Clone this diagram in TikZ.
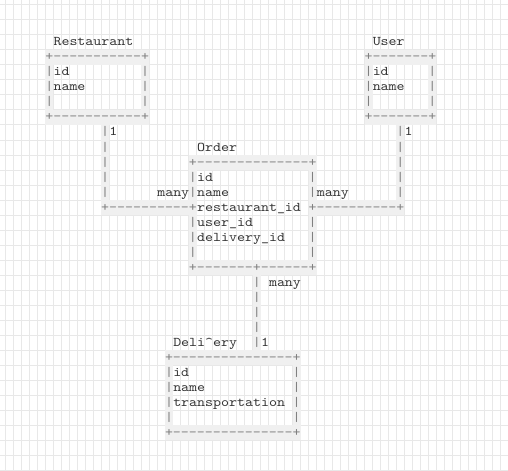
\documentclass[tikz,border=0pt]{standalone}
\usepackage{graphicx}

\newcommand\asciifont{\fontsize{10pt}{12pt}\ttfamily}
\newcommand\asc[1]{\scalebox{1.14}[1]{#1}}
\tikzset{chr/.style={inner sep=0pt, anchor=base, yshift=-2.625pt, font=\asciifont, text=black!50},
  word/.style={inner sep=0pt, anchor=base west, yshift=-2.625pt, font=\asciifont, text=black!80},
  band/.style={fill=black!6},
  gridline/.style={draw=black!9, line width=0.75pt}}
% one cell of a line: col, row
\newcommand\asccorner[2]{%
  \fill[band] (#1-0.5,#2-0.5) rectangle (#1+0.5,#2+0.5);
  \node[chr] (c-#2-#1) at (#1,#2) {\asc{+}};}
% row, first col, last col
\newcommand\ascdash[3]{%
  \fill[band] (#2-0.5,#1-0.5) rectangle (#3+0.5,#1+0.5);
  \foreach \c in {#2,...,#3}
    \node[chr] (d-#1-\c) at (\c,#1) {\asc{-}};}
% col, first row, last row
\newcommand\ascbar[3]{%
  \fill[band] (#1-0.5,#2-0.5) rectangle (#1+0.5,#3+0.5);
  \foreach \r in {#2,...,#3}
    \node[chr] (b-\r-#1) at (#1,\r) {\asc{|}};}

\begin{document}
\begin{tikzpicture}[x=5.985pt, y=-11.25pt]
  \useasboundingbox (-6.178,-0.8333) rectangle (57.48,30.5);
  \fill[white] (-6.178,-0.8333) rectangle (57.48,30.5);
  \foreach \c in {-6.5,-5.5,...,57.5} \draw[gridline] (\c,-0.8333) -- (\c,30.5);
  \foreach \r in {-0.5,0.5,...,30.5} \draw[gridline] (-6.178,\r) -- (57.48,\r);

  % Restaurant
  \node[word] (restaurant) at (0.5,2) {\asc{Restaurant}};
  \asccorner{0}{3} \ascdash{3}{1}{11} \asccorner{12}{3}
  \ascbar{0}{4}{6} \ascbar{12}{4}{6}
  \asccorner{0}{7} \ascdash{7}{1}{11} \asccorner{12}{7}
  \node[word] (restaurant-id) at (0.5,4) {\asc{id}};
  \node[word] (restaurant-name) at (0.5,5) {\asc{name}};

  % User
  \node[word] (user) at (40.5,2) {\asc{User}};
  \asccorner{40}{3} \ascdash{3}{41}{47} \asccorner{48}{3}
  \ascbar{40}{4}{6} \ascbar{48}{4}{6}
  \asccorner{40}{7} \ascdash{7}{41}{47} \asccorner{48}{7}
  \node[word] (user-id) at (40.5,4) {\asc{id}};
  \node[word] (user-name) at (40.5,5) {\asc{name}};

  % Order
  \node[word] (order) at (18.5,9) {\asc{Order}};
  \asccorner{18}{10} \ascdash{10}{19}{32} \asccorner{33}{10}
  \ascbar{18}{11}{12} \ascbar{18}{14}{16}
  \ascbar{33}{11}{12} \ascbar{33}{14}{16}
  \asccorner{18}{17} \ascdash{17}{19}{25} \asccorner{26}{17}
  \ascdash{17}{27}{32} \asccorner{33}{17}
  \node[word] (order-id) at (18.5,11) {\asc{id}};
  \node[word] (order-name) at (18.5,12) {\asc{name}};
  \node[word] (order-restaurant) at (18.5,13) {\asc{restaurant\_id}};
  \node[word] (order-user) at (18.5,14) {\asc{user\_id}};
  \node[word] (order-delivery) at (18.5,15) {\asc{delivery\_id}};

  % Restaurant -- Order
  \ascbar{7}{8}{12}
  \asccorner{7}{13} \ascdash{13}{8}{17} \asccorner{18}{13}
  \node[word] (restaurant-one) at (7.5,8) {\asc{1}};
  \node[word] (restaurant-many) at (13.5,12) {\asc{many}};

  % User -- Order
  \ascbar{44}{8}{12}
  \asccorner{33}{13} \ascdash{13}{34}{43} \asccorner{44}{13}
  \node[word] (user-one) at (44.5,8) {\asc{1}};
  \node[word] (user-many) at (33.5,12) {\asc{many}};

  % Order -- Delivery
  \ascbar{26}{18}{22}
  \node[word] (delivery-many) at (27.5,18) {\asc{many}};
  \node[word] (delivery-one) at (26.5,22) {\asc{1}};

  % Delivery
  \node[word] (delivery) at (15.5,22) {\asc{Deli\textasciicircum ery}};
  \asccorner{15}{23} \ascdash{23}{16}{30} \asccorner{31}{23}
  \ascbar{15}{24}{27} \ascbar{31}{24}{27}
  \asccorner{15}{28} \ascdash{28}{16}{30} \asccorner{31}{28}
  \node[word] (delivery-id) at (15.5,24) {\asc{id}};
  \node[word] (delivery-name) at (15.5,25) {\asc{name}};
  \node[word] (delivery-transport) at (15.5,26) {\asc{transportation}};
\end{tikzpicture}
\end{document}
